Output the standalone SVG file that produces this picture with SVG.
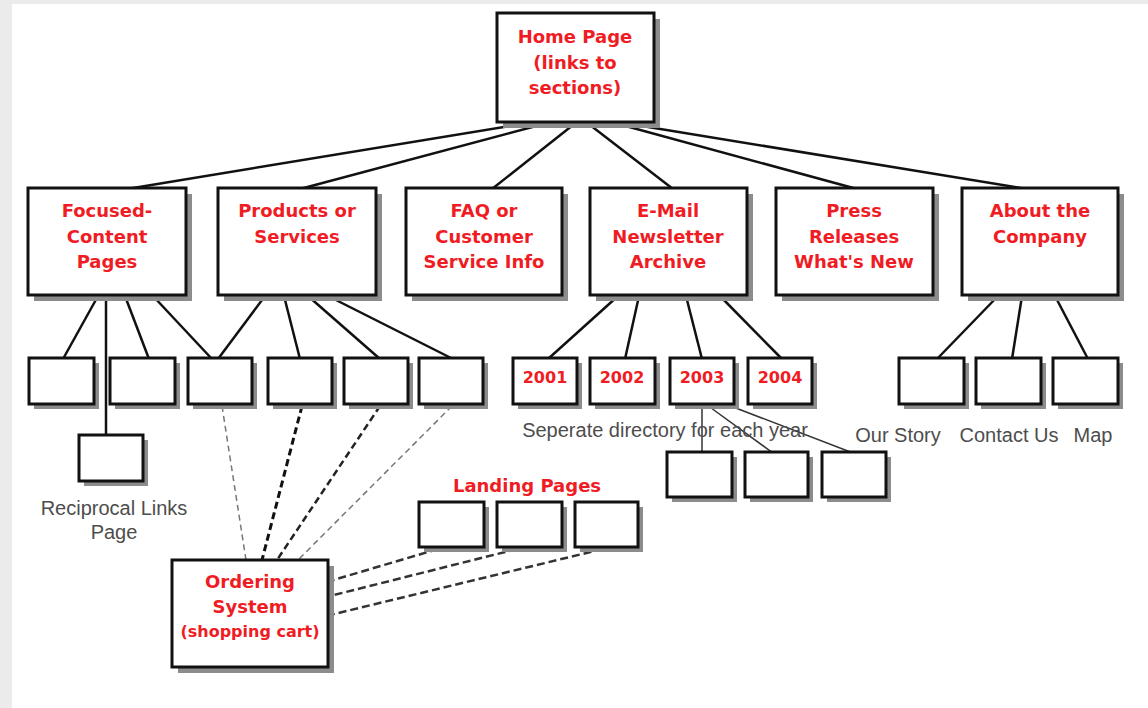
<svg xmlns="http://www.w3.org/2000/svg" width="1148" height="708" viewBox="0 0 1148 708">
  <style>
    .box { fill: #ffffff; stroke: #111111; stroke-width: 3; }
    .shadow { fill: #8c8c8c; }
    .t { font-family: "DejaVu Sans", "Liberation Sans", sans-serif; font-weight: bold; font-size: 18px; fill: #f01c24; text-anchor: middle; }
    .yr { font-size: 16px; }
    .sm { font-size: 16px; }
    .g { font-family: "Liberation Sans", Arial, sans-serif; font-size: 20px; fill: #4d4d4d; text-anchor: middle; }
    .ln { stroke: #111111; stroke-width: 2.5; fill: none; }
    .thin { stroke: #333333; stroke-width: 1.5; fill: none; }
    .dl { stroke: #777777; stroke-width: 1.5; fill: none; stroke-dasharray: 6 4; }
    .dk { stroke: #111111; stroke-width: 3; fill: none; stroke-dasharray: 7 4; }
    .dm { stroke: #222222; stroke-width: 2.5; fill: none; stroke-dasharray: 7 4; }
    .dp { stroke: #333333; stroke-width: 2.5; fill: none; stroke-dasharray: 8 4; }
  </style>

  <!-- page background -->
  <rect x="0" y="0" width="1148" height="708" fill="#ebebeb"/>
  <rect x="12" y="4" width="1136" height="704" fill="#ffffff"/>

  <!-- connectors -->
  <g id="connectors">
    <!-- home to sections -->
    <line class="ln" x1="516" y1="125" x2="127" y2="189"/>
    <line class="ln" x1="540" y1="125" x2="300" y2="189"/>
    <line class="ln" x1="573" y1="125" x2="492" y2="189"/>
    <line class="ln" x1="590" y1="125" x2="673" y2="189"/>
    <line class="ln" x1="622" y1="125" x2="857" y2="189"/>
    <line class="ln" x1="636" y1="125" x2="1027" y2="189"/>
    <!-- focused-content pages -->
    <line class="ln" x1="98" y1="296" x2="63" y2="359"/>
    <line class="ln" x1="106" y1="296" x2="106" y2="436"/>
    <line class="ln" x1="125" y1="296" x2="149" y2="359"/>
    <line class="ln" x1="153" y1="296" x2="212" y2="359"/>
    <!-- products or services -->
    <line class="ln" x1="265" y1="296" x2="218" y2="359"/>
    <line class="ln" x1="284" y1="296" x2="300" y2="359"/>
    <line class="ln" x1="308" y1="296" x2="380" y2="359"/>
    <line class="ln" x1="328" y1="296" x2="453" y2="359"/>
    <!-- newsletter archive years -->
    <line class="ln" x1="618" y1="296" x2="548" y2="359"/>
    <line class="ln" x1="639" y1="296" x2="625" y2="359"/>
    <line class="ln" x1="686" y1="296" x2="702" y2="359"/>
    <line class="ln" x1="720" y1="296" x2="782" y2="359"/>
    <!-- about the company -->
    <line class="ln" x1="998" y1="296" x2="937" y2="359"/>
    <line class="ln" x1="1022" y1="296" x2="1012" y2="359"/>
    <line class="ln" x1="1055" y1="296" x2="1088" y2="359"/>
    <!-- 2003 sub-directories -->
    <line class="thin" x1="702" y1="405" x2="702" y2="453"/>
    <line class="thin" x1="707" y1="405" x2="773" y2="453"/>
    <line class="thin" x1="728" y1="405" x2="853" y2="453"/>
    <!-- product pages to ordering system -->
    <line class="dl" x1="222" y1="406" x2="246" y2="560"/>
    <line class="dk" x1="302" y1="406" x2="262" y2="560"/>
    <line class="dm" x1="380" y1="406" x2="277" y2="560"/>
    <line class="dl" x1="452" y1="406" x2="298" y2="560"/>
    <!-- landing pages to ordering system -->
    <line class="dp" x1="438" y1="549" x2="330" y2="581"/>
    <line class="dp" x1="517" y1="549" x2="330" y2="596"/>
    <line class="dp" x1="603" y1="549" x2="330" y2="615"/>
  </g>

  <!-- top level -->
  <g id="home">
    <rect class="shadow" x="503" y="19" width="157" height="109"/>
    <rect class="box" x="497" y="13" width="157" height="109"/>
    <text class="t" x="575" y="43">Home Page</text>
    <text class="t" x="575" y="69">(links to</text>
    <text class="t" x="575" y="94">sections)</text>
  </g>

  <!-- sections -->
  <g id="focused">
    <rect class="shadow" x="34" y="194" width="158" height="107"/>
    <rect class="box" x="28" y="188" width="158" height="107"/>
    <text class="t" x="107" y="217">Focused-</text>
    <text class="t" x="107" y="243">Content</text>
    <text class="t" x="107" y="268">Pages</text>
  </g>
  <g id="products">
    <rect class="shadow" x="224" y="194" width="158" height="107"/>
    <rect class="box" x="218" y="188" width="158" height="107"/>
    <text class="t" x="297" y="217">Products or</text>
    <text class="t" x="297" y="243">Services</text>
  </g>
  <g id="faq">
    <rect class="shadow" x="412" y="194" width="156" height="107"/>
    <rect class="box" x="406" y="188" width="156" height="107"/>
    <text class="t" x="484" y="217">FAQ or</text>
    <text class="t" x="484" y="243">Customer</text>
    <text class="t" x="484" y="268">Service Info</text>
  </g>
  <g id="newsletter">
    <rect class="shadow" x="596" y="194" width="157" height="107"/>
    <rect class="box" x="590" y="188" width="157" height="107"/>
    <text class="t" x="668" y="217">E-Mail</text>
    <text class="t" x="668" y="243">Newsletter</text>
    <text class="t" x="668" y="268">Archive</text>
  </g>
  <g id="press">
    <rect class="shadow" x="782" y="194" width="157" height="107"/>
    <rect class="box" x="776" y="188" width="157" height="107"/>
    <text class="t" x="854" y="217">Press</text>
    <text class="t" x="854" y="243">Releases</text>
    <text class="t" x="854" y="268">What's New</text>
  </g>
  <g id="about">
    <rect class="shadow" x="968" y="194" width="156" height="107"/>
    <rect class="box" x="962" y="188" width="156" height="107"/>
    <text class="t" x="1040" y="217">About the</text>
    <text class="t" x="1040" y="243">Company</text>
  </g>

  <!-- focused-content pages -->
  <g id="fc-page-1">
    <rect class="shadow" x="34" y="363" width="65" height="46"/>
    <rect class="box" x="29" y="358" width="65" height="46"/>
  </g>
  <g id="fc-page-2">
    <rect class="shadow" x="115" y="363" width="65" height="46"/>
    <rect class="box" x="110" y="358" width="65" height="46"/>
  </g>
  <g id="shared-page">
    <rect class="shadow" x="193" y="363" width="64" height="46"/>
    <rect class="box" x="188" y="358" width="64" height="46"/>
  </g>
  <g id="reciprocal-links">
    <rect class="shadow" x="84" y="440" width="64" height="46"/>
    <rect class="box" x="79" y="435" width="64" height="46"/>
    <text class="g" x="114" y="515">Reciprocal Links</text>
    <text class="g" x="114" y="539">Page</text>
  </g>

  <!-- product pages -->
  <g id="product-page-1">
    <rect class="shadow" x="273" y="363" width="64" height="46"/>
    <rect class="box" x="268" y="358" width="64" height="46"/>
  </g>
  <g id="product-page-2">
    <rect class="shadow" x="349" y="363" width="64" height="46"/>
    <rect class="box" x="344" y="358" width="64" height="46"/>
  </g>
  <g id="product-page-3">
    <rect class="shadow" x="424" y="363" width="64" height="46"/>
    <rect class="box" x="419" y="358" width="64" height="46"/>
  </g>

  <!-- newsletter years -->
  <g id="year-2001">
    <rect class="shadow" x="518" y="363" width="64" height="46"/>
    <rect class="box" x="513" y="358" width="64" height="46"/>
    <text class="t yr" x="545" y="383">2001</text>
  </g>
  <g id="year-2002">
    <rect class="shadow" x="595" y="363" width="65" height="46"/>
    <rect class="box" x="590" y="358" width="65" height="46"/>
    <text class="t yr" x="622" y="383">2002</text>
  </g>
  <g id="year-2003">
    <rect class="shadow" x="675" y="363" width="64" height="46"/>
    <rect class="box" x="670" y="358" width="64" height="46"/>
    <text class="t yr" x="702" y="383">2003</text>
  </g>
  <g id="year-2004">
    <rect class="shadow" x="753" y="363" width="64" height="46"/>
    <rect class="box" x="748" y="358" width="64" height="46"/>
    <text class="t yr" x="780" y="383">2004</text>
  </g>
  <g id="year-note">
    <text class="g" x="665" y="437">Seperate directory for each year</text>
  </g>
  <g id="issue-1">
    <rect class="shadow" x="672" y="457" width="65" height="45"/>
    <rect class="box" x="667" y="452" width="65" height="45"/>
  </g>
  <g id="issue-2">
    <rect class="shadow" x="750" y="457" width="63" height="45"/>
    <rect class="box" x="745" y="452" width="63" height="45"/>
  </g>
  <g id="issue-3">
    <rect class="shadow" x="827" y="457" width="64" height="45"/>
    <rect class="box" x="822" y="452" width="64" height="45"/>
  </g>

  <!-- company pages -->
  <g id="our-story">
    <rect class="shadow" x="904" y="363" width="65" height="46"/>
    <rect class="box" x="899" y="358" width="65" height="46"/>
    <text class="g" x="898" y="442">Our Story</text>
  </g>
  <g id="contact-us">
    <rect class="shadow" x="981" y="363" width="65" height="46"/>
    <rect class="box" x="976" y="358" width="65" height="46"/>
    <text class="g" x="1009" y="442">Contact Us</text>
  </g>
  <g id="map">
    <rect class="shadow" x="1058" y="363" width="65" height="46"/>
    <rect class="box" x="1053" y="358" width="65" height="46"/>
    <text class="g" x="1093" y="442">Map</text>
  </g>

  <!-- landing pages -->
  <g id="landing-pages">
    <text class="t" x="527" y="492">Landing Pages</text>
  </g>
  <g id="landing-1">
    <rect class="shadow" x="424" y="507" width="65" height="45"/>
    <rect class="box" x="419" y="502" width="65" height="45"/>
  </g>
  <g id="landing-2">
    <rect class="shadow" x="502" y="507" width="65" height="45"/>
    <rect class="box" x="497" y="502" width="65" height="45"/>
  </g>
  <g id="landing-3">
    <rect class="shadow" x="580" y="507" width="63" height="45"/>
    <rect class="box" x="575" y="502" width="63" height="45"/>
  </g>

  <!-- ordering system -->
  <g id="ordering">
    <rect class="shadow" x="178" y="566" width="156" height="107"/>
    <rect class="box" x="172" y="560" width="156" height="107"/>
    <text class="t" x="250" y="588">Ordering</text>
    <text class="t" x="250" y="613">System</text>
    <text class="t sm" x="250" y="637">(shopping cart)</text>
  </g>
</svg>
